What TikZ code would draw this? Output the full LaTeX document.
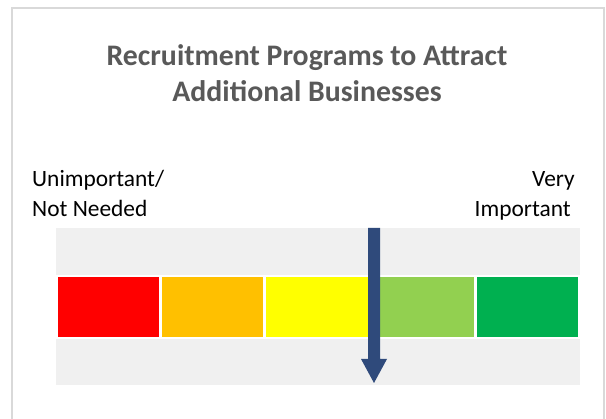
\documentclass[tikz,border=0pt]{standalone}
\usepackage{fontspec}
\setmainfont{Carlito}
\definecolor{frame}{HTML}{D9D9D9}
\definecolor{band}{HTML}{F0F0F0}
\definecolor{c1}{HTML}{FF0000}
\definecolor{c2}{HTML}{FFC000}
\definecolor{c3}{HTML}{FFFF00}
\definecolor{c4}{HTML}{92D050}
\definecolor{c5}{HTML}{00B050}
\definecolor{arr}{HTML}{2F4A7B}
\definecolor{titlec}{HTML}{595959}
\begin{document}
\begin{tikzpicture}[x=1pt,y=-1pt,
  seg/.style={draw=white,line width=1.5pt},
  lbl/.style={inner sep=0pt,font=\fontsize{23.4}{28}\selectfont},
  ttl/.style={inner sep=0pt,font=\fontsize{29.8}{36}\selectfont\bfseries,text=titlec}]
\useasboundingbox (0,0) rectangle (606,419);
\fill[white] (0,0) rectangle (606,419);
\draw[frame,line width=2pt] (12,430) -- (12,8) -- (604,8) -- (604,430);
% band
\fill[band] (56,228) rectangle (580,385);
% segments
\filldraw[seg,fill=c1] (57,276) rectangle (160,338);
\filldraw[seg,fill=c2] (161.5,276) rectangle (264,338);
\filldraw[seg,fill=c3] (265.5,276) rectangle (370,338);
\filldraw[seg,fill=c4] (371.5,276) rectangle (475,338);
\filldraw[seg,fill=c5] (476.5,276) rectangle (579,338);
% arrow
\fill[arr] (368,228) -- (380,228) -- (380,359) -- (387,359) -- (374,383) -- (361,359) -- (368,359) -- cycle;
% title
\node[ttl,anchor=base] (t1) at (307,66) {Recruitment Programs to Attract};
\node[ttl,anchor=base] (t2) at (307,102) {Additional Businesses};
% labels
\node[lbl,anchor=base west] (l1) at (32,187) {Unimportant/};
\node[lbl,anchor=base west] (l2) at (32,217) {Not Needed};
\node[lbl,anchor=base east] (r1) at (575,187) {Very};
\node[lbl,anchor=base east] (r2) at (571,217) {Important};
\end{tikzpicture}
\end{document}
